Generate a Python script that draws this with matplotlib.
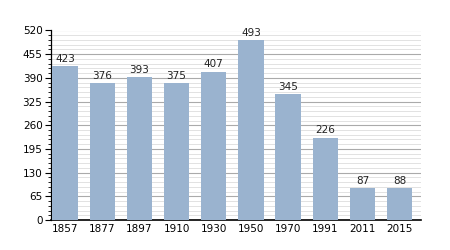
import matplotlib
matplotlib.use("Agg")
import matplotlib.pyplot as plt
from matplotlib.ticker import MultipleLocator

years = ["1857", "1877", "1897", "1910", "1930", "1950", "1970", "1991", "2011", "2015"]
population = [423, 376, 393, 375, 407, 493, 345, 226, 87, 88]
yticks = [0, 65, 130, 195, 260, 325, 390, 455, 520]

fig = plt.figure(figsize=(4.5, 2.5), dpi=100)
ax = fig.add_axes([0.113, 0.12, 0.823, 0.758])

x = list(range(len(years)))
ax.bar(x, population, width=0.68, color="#9ab3cf", zorder=3)
for xi, v in zip(x, population):
    ax.text(xi, v + 6, str(v), ha="center", va="bottom", fontsize=7.5, color="#222222", zorder=4)

ax.set_xlim(-0.38, len(years) - 0.42)
ax.set_ylim(0, 520)
ax.set_yticks(yticks)
ax.set_yticklabels([str(t) for t in yticks], fontsize=7.5)
ax.yaxis.set_minor_locator(MultipleLocator(13))
ax.set_xticks(x)
ax.set_xticklabels(years, fontsize=7.5)
ax.tick_params(axis="x", length=0, pad=3)
ax.tick_params(axis="y", which="major", length=4, width=0.8, pad=2)
ax.tick_params(axis="y", which="minor", length=2, width=0.6)
ax.grid(axis="y", which="major", color="#aaaaaa", linewidth=0.8, zorder=0)
ax.grid(axis="y", which="minor", color="#dddddd", linewidth=0.6, zorder=0)
for s in ["top", "right"]:
    ax.spines[s].set_visible(False)
ax.spines["left"].set_linewidth(0.9)
ax.spines["bottom"].set_linewidth(1.2)

fig.savefig("out.png", dpi=100)
